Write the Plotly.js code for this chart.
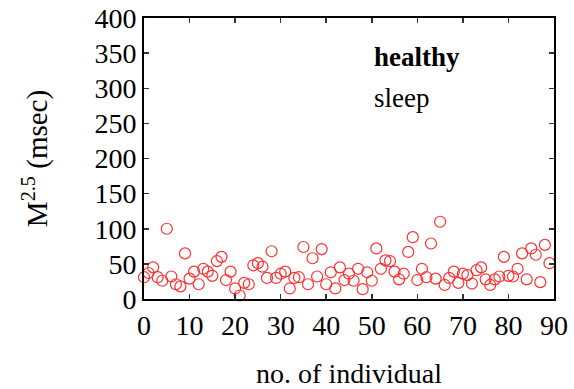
<!DOCTYPE html>
<html>
<head>
<meta charset="utf-8">
<script src="https://cdn.plot.ly/plotly-3.0.1.min.js"></script>
<style>html,body{margin:0;padding:0;background:#fff;}#chart{width:574px;height:389px;}</style>
</head>
<body>
<div id="chart"></div>
<script>
var individuals = [];
for (var i = 0; i < 90; i++) individuals.push(i);
var m25 = [31,37,45,31,26,100,32,21,18,65,
           29,39,21,43,39,33,54,60,27,39,
           15,5,23,21,48,51,46,30,68,30,
           36,39,15,30,31,74,21,58,32,71,
           21,38,15,45,27,36,26,43,14,38,
           26,72,43,55,54,39,28,36,67,88,
           27,43,31,79,29,110,20,30,39,23,
           36,34,22,41,45,28,20,28,32,60,
           33,32,43,65,28,72,63,24,77,51];
var xTicks = [0,10,20,30,40,50,60,70,80,90];
var yTicks = [0,50,100,150,200,250,300,350,400];
var labelA = "healthy";
var labelB = "sleep";

var font = "Liberation Serif, Times New Roman, serif";
var trace = {
  x: individuals, y: m25, type: "scatter", mode: "markers",
  marker: {symbol: "circle-open", size: 11, color: "#ff3030", line: {width: 1.2, color: "#ff3030"}},
  cliponaxis: false, hoverinfo: "none"
};
var layout = {
  width: 574, height: 389,
  margin: {l: 144, r: 20, t: 18, b: 90},
  paper_bgcolor: "#fff", plot_bgcolor: "#fff",
  showlegend: false,
  font: {family: font, color: "#000", size: 28},
  xaxis: {
    range: [0, 90], tickvals: xTicks, ticktext: xTicks.map(String),
    ticks: "inside", ticklen: 5, tickwidth: 1.5, tickcolor: "#333",
    showline: true, linecolor: "#000", linewidth: 2, mirror: "ticks",
    showgrid: false, zeroline: false, automargin: false,
    tickfont: {family: font, size: 28},
    title: {text: "no. of individual", font: {family: font, size: 28}, standoff: 28}
  },
  yaxis: {
    range: [0, 400], tickvals: yTicks, ticktext: yTicks.map(String),
    ticks: "inside", ticklen: 5, tickwidth: 1.5, tickcolor: "#333",
    showline: true, linecolor: "#000", linewidth: 2, mirror: "ticks",
    showgrid: false, zeroline: false, automargin: false,
    tickfont: {family: font, size: 28},
    title: {text: "M<sup>2.5</sup> (msec)", font: {family: font, size: 29}, standoff: 38}
  },
  annotations: [
    {x: 50, y: 344, xref: "x", yref: "y", xanchor: "left", yanchor: "middle", showarrow: false,
     text: "<b>" + labelA + "</b>", font: {family: font, size: 27, color: "#000"}},
    {x: 50, y: 286, xref: "x", yref: "y", xanchor: "left", yanchor: "middle", showarrow: false,
     text: labelB, font: {family: font, size: 27, color: "#000"}}
  ]
};
Plotly.newPlot("chart", [trace], layout, {staticPlot: true, displayModeBar: false});
</script>
</body>
</html>
